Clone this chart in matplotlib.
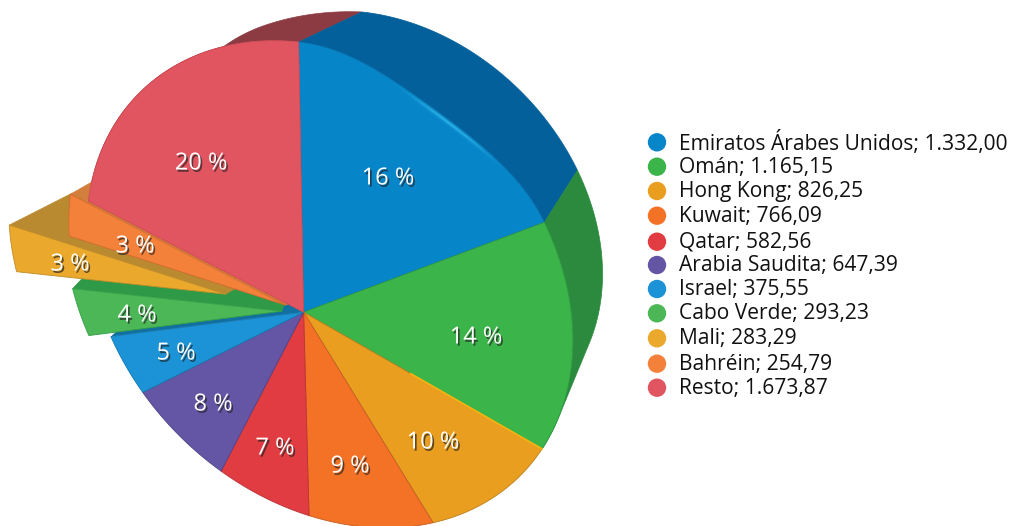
import numpy as np
import matplotlib
matplotlib.use("Agg")
import matplotlib.pyplot as plt
from matplotlib.patches import Polygon, Circle
from matplotlib.collections import LineCollection
from matplotlib.colors import to_rgb
import matplotlib.patheffects as pe

countries = ["Emiratos Árabes Unidos", "Omán", "Hong Kong", "Kuwait", "Qatar", "Arabia Saudita",
             "Israel", "Cabo Verde", "Mali", "Bahréin", "Resto"]
values = [1332.00, 1165.15, 826.25, 766.09, 582.56, 647.39, 375.55, 293.23, 283.29, 254.79, 1673.87]
top_colors = ["#0785C9", "#3BB44A", "#EA9E20", "#F47226", "#E03C41", "#6456A5",
              "#1B93D6", "#4CB757", "#EAA92D", "#F4813A", "#E15560"]
side_colors = ["#03609A", "#2C8A3F", "#B07A18", "#B85A20", "#A03035", "#463C78",
               "#11679A", "#2E9A48", "#B98A2F", "#D27E3C", "#8C3B43"]
edge_colors = ["#0670AC", "#2F9A40", "#B9801C", "#C65C20", "#B83236", "#4C4286",
               "#1478B0", "#35A048", "#C08C28", "#D06C30", "#D04A54"]

plt.rcParams['font.family'] = ['Open Sans', 'DejaVu Sans']
fig = plt.figure(figsize=(10.15, 5.26), dpi=100)
ax = fig.add_axes([0, 0, 1, 1])
ax.set_xlim(0, 1015); ax.set_ylim(526, 0); ax.axis('off')

v = np.array(values)
cum = np.concatenate([[0], np.cumsum(v) / v.sum()])

# perspective of the pie's disk in the picture
H = np.array([[204.498, -47.449, 303.627],
              [20.293, -276.164, 312.190],
              [-0.10934, -0.14224, 1.0]])


def proj(f, r=1.0):
    f = np.asarray(f, float)
    r = r * np.ones_like(f)
    u, w = r*np.sin(2*np.pi*f), r*np.cos(2*np.pi*f)
    d = H[2, 0]*u + H[2, 1]*w + H[2, 2]
    return np.c_[(H[0, 0]*u + H[0, 1]*w + H[0, 2])/d, (H[1, 0]*u + H[1, 1]*w + H[1, 2])/d]


def front(f, r=1.0):
    # the front face's first slice is slightly flatter than a true circle
    f = np.asarray(f, float)
    bend = np.where(f < cum[1], 0.04*np.sin(np.pi*f/cum[1])**2, 0.0)
    return proj(f, r*(1 - bend))


def hull(pts):
    pts = sorted(map(tuple, pts))
    def half(seq):
        out = []
        for p in seq:
            while len(out) > 1 and ((out[-1][0]-out[-2][0])*(p[1]-out[-2][1])
                                    - (out[-1][1]-out[-2][1])*(p[0]-out[-2][0])) <= 0:
                out.pop()
            out.append(p)
        return out
    return half(pts)[:-1] + half(pts[::-1])[:-1]


BACK_S = 0.878
BACK_O = np.array([99.5, -24.9])
CENTER = proj(np.array([0.0]), 0)[0]

# exploded slices: index -> shift, outer wall offset, tip wall offset
EXPLODE = {7: ((-22, -1), (15, -16), (8, -19)),
           8: ((-78, -18), (63, -32), (10, -6)),
           9: ((-18, -7), (21, -12), (4, -2))}


def arc(i, n=80):
    return front(np.linspace(cum[i], cum[i+1], n))


# back walls of the solid pie (only the three that can be seen)
for i in [10, 0, 1]:
    f = np.linspace(cum[i], cum[i+1], 80)
    back = BACK_S*proj(f) + BACK_O
    if i == 10:   # the wall runs out further left on this side
        back = back + np.outer(np.clip((1.0 - f)/0.06, 0, 1), (-16, 5))
    pts = hull(np.vstack([arc(i), back])) if i == 1 else np.vstack([arc(i), back[::-1]])
    ax.add_patch(Polygon(pts, closed=True, fc=side_colors[i], ec=side_colors[i], lw=0.5, zorder=1))

# Israel inner wall, only visible near the centre
p = front(np.array([cum[7]]))[0]
ax.add_patch(Polygon([CENTER, p, p + (15, -14), CENTER + (-16, -9)], closed=True,
                     fc="#11709F", ec="none", zorder=2))


def top(i, shift=(0, 0), z=3):
    a = arc(i) + shift
    tip = CENTER + shift
    ax.add_patch(Polygon(np.vstack([tip, a]), closed=True, fc=top_colors[i],
                         ec=edge_colors[i], lw=0.6, zorder=z, joinstyle='round'))


for i in [0, 1, 2, 3, 4, 5, 6]:
    top(i)
for k, i in enumerate([7, 8, 9]):
    shift, wo, wt = EXPLODE[i]
    a = arc(i) + shift
    tip = CENTER + shift
    ax.add_patch(Polygon([a[-1], a[-1] + wo, tip + wt, tip], closed=True, fc=side_colors[i],
                         ec=side_colors[i], lw=0.5, zorder=4 + 2*k))
    top(i, shift, 5 + 2*k)
top(10, z=12)

# soft highlight along the rim of the first slice
ff = np.linspace(cum[0] + 0.045, cum[1] - 0.025, 60)
hl = front(ff, 0.992)
fade = np.sin(np.pi*(ff - ff[0])/(ff[-1] - ff[0]))**3
segs = np.stack([hl[:-1], hl[1:]], axis=1)
rgb = np.array(to_rgb("#35C4F2"))
for lw, al in [(4.5, .12), (2.5, .25), (1.2, .55)]:
    cols = np.c_[np.tile(rgb, (len(segs), 1)), al*fade[:-1]]
    ax.add_collection(LineCollection(segs, colors=cols, linewidths=lw, zorder=13, capstyle='butt'))

e = np.vstack([front(np.array([cum[2]]))[0], CENTER])
ax.plot([e[0, 0], e[0, 0]*.45 + e[1, 0]*.55], [e[0, 1], e[0, 1]*.45 + e[1, 1]*.55],
        color="#F9B80E", lw=1.1, zorder=13)

# percentage labels
LABEL_XY = [(388, 178.5), (476, 337.5), (433, 442.5), (350, 466.5), (275, 448.5), (213, 404.5),
            (176, 353.5), (137, 315.5), (70, 264.5), (135, 246.5), (201, 163.5)]
for val, (x, y) in zip(values, LABEL_XY):
    t = ax.text(x, y, f"{round(100*val/v.sum())} %", color="white", fontsize=17, ha='center',
                va='center', zorder=20)
    t.set_path_effects([pe.SimplePatchShadow(offset=(1.2, -1.6), shadow_rgbFace="#222222", alpha=.7),
                        pe.Normal()])

# legend
LEG_Y = [142.3, 166.7, 191, 215.7, 241.7, 265, 289, 313.3, 338.3, 363.7, 387.7]
for name, val, col, y in zip(countries, values, top_colors, LEG_Y):
    s = f"{val:,.2f}".replace(",", "X").replace(".", ",").replace("X", ".")
    ax.add_patch(Circle((657, y), 9.2, fc=col, ec="none", zorder=5))
    ax.text(679, y + 0.5, f"{name}; {s}", color="#111111", fontsize=15.15, va='center', ha='left')

fig.savefig("out.png", dpi=100)
